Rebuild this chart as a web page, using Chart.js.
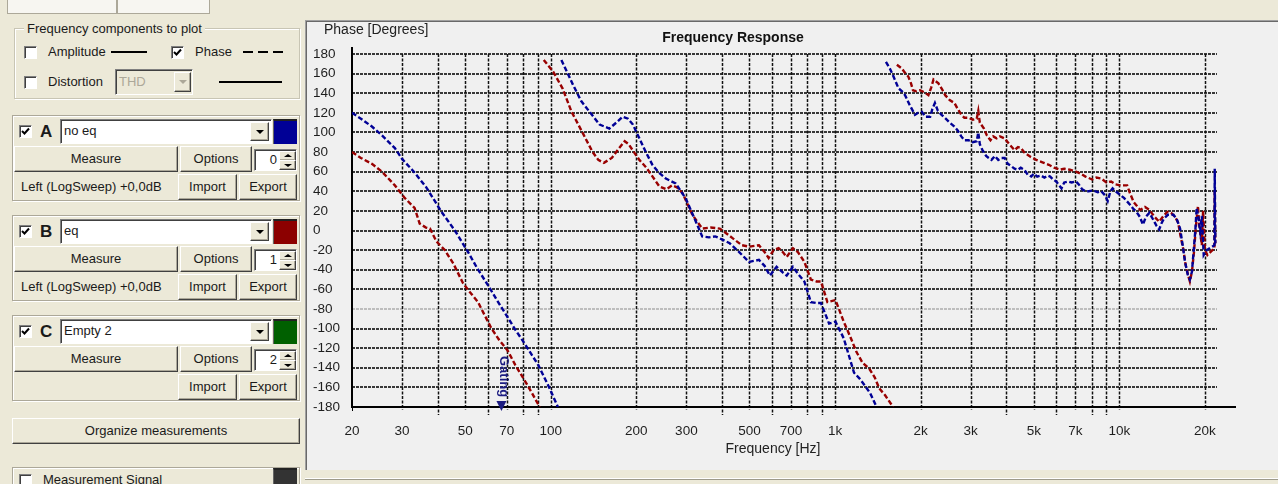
<!DOCTYPE html>
<html>
<head>
<meta charset="utf-8">
<title>Frequency Response</title>
<script src="https://cdn.jsdelivr.net/npm/chart.js@4.4.1/dist/chart.umd.min.js"></script>
<style>
  html, body { margin: 0; padding: 0; }
  body {
    width: 1278px; height: 484px; overflow: hidden; position: relative;
    background: #ece9d8; color: #1a1a1a;
    font-family: "Liberation Sans", Arial, sans-serif; font-size: 13px;
  }
  .abs { position: absolute; white-space: nowrap; }
  .tab { position: absolute; top: 0; height: 13px; background: #f7f6f1; border: 1px solid #aca899; border-top: none; }
  .group { position: absolute; box-sizing: border-box; border: 1px solid #c8c5b4; box-shadow: inset 1px 1px 0 #fff, 1px 1px 0 #fff; }
  .glabel { position: absolute; background: #ece9d8; padding: 0 3px; line-height: 16px; }
  .panel { position: absolute; box-sizing: border-box; border: 1px solid #aca899; box-shadow: inset 1px 1px 0 #fff, 1px 1px 0 #fff; }
  .cb { position: absolute; box-sizing: border-box; width: 13px; height: 13px; background: #fff;
        border: 1px solid; border-color: #808080 #fff #fff #808080; box-shadow: inset 1px 1px 0 #404040; }
  .cb svg { position: absolute; left: 1px; top: 1px; }
  .btn { position: absolute; box-sizing: border-box; background: #ece9d8; text-align: center;
         border: 1px solid; border-color: #fff #404040 #404040 #fff; box-shadow: inset -1px -1px 0 #aca899; }
  .field { position: absolute; box-sizing: border-box; background: #fff;
           border: 1px solid; border-color: #808080 #fff #fff #808080; box-shadow: inset 1px 1px 0 #404040; }
  .arrow { position: absolute; width: 0; height: 0; border-left: 4px solid transparent; border-right: 4px solid transparent; border-top: 4px solid #000; }
  .swatch { position: absolute; box-sizing: border-box; border-top: 2px solid #222; border-left: 1px solid #666; }
  #chartPanel { position: absolute; left: 305px; top: 20px; width: 973px; height: 450px; box-sizing: border-box;
                background: #f0f0f0; border-left: 1px solid #a0a0a0; border-top: 1px solid #a0a0a0;
                box-shadow: inset 1px 1px 0 #696969; }
  #plot { position: absolute; left: 308px; top: 22px; }
  #statusLine { position: absolute; left: 305px; top: 478px; width: 973px; height: 1px; background: #9d9a8a; border-top: 1px solid #fff; }
</style>
</head>
<body>
<div class="tab" style="left:7px;width:108px"></div>
<div class="tab" style="left:117px;width:91px"></div>

<div class="group" style="left:14px;top:28px;width:286px;height:71px"></div>
<div class="glabel" style="left:24px;top:21px">Frequency components to plot</div>
<div class="cb" style="left:24px;top:46px"></div>
<div class="abs" style="left:48px;top:44px;line-height:16px">Amplitude</div>
<div class="abs" style="left:111px;top:51px;width:36px;height:2px;background:#000"></div>
<div class="cb" style="left:171px;top:46px"><svg width="9" height="9"><path d="M1 4 L3.5 6.5 L8 1.5" stroke="#000" stroke-width="2" fill="none"/></svg></div>
<div class="abs" style="left:195px;top:44px;line-height:16px">Phase</div>
<div class="abs" style="left:243px;top:51px;width:41px;height:2px;background:repeating-linear-gradient(90deg,#000 0 10px,transparent 10px 15px)"></div>
<div class="cb" style="left:24px;top:76px"></div>
<div class="abs" style="left:48px;top:74px;line-height:16px">Distortion</div>
<div class="field" style="left:115px;top:69px;width:78px;height:26px;background:#ece9d8">
  <div class="abs" style="left:3px;top:4px;line-height:16px;color:#aca899">THD</div>
  <div class="btn" style="left:58px;top:2px;width:17px;height:20px"><div class="arrow" style="left:4px;top:7px;border-top-color:#aca899"></div></div>
</div>
<div class="abs" style="left:219px;top:81px;width:63px;height:2px;background:#000"></div>

<div id="measureGroups"></div>

<div class="btn" style="left:12px;top:418px;width:288px;height:26px;line-height:24px">Organize measurements</div>
<div class="panel" style="left:12px;top:467px;width:288px;height:30px"></div>
<div class="cb" style="left:19px;top:474px"></div>
<div class="abs" style="left:43px;top:472px;line-height:16px">Measurement Signal</div>
<div class="swatch" style="left:273px;top:468px;width:24px;height:20px;background:#333"></div>

<div id="chartPanel"></div>
<canvas id="plot" width="970" height="448"></canvas>
<div id="statusLine"></div>

<script>
// measurement slots shown in the left panel
const slotLetters = ['A', 'B', 'C'];
const slotNames = ['no eq', 'eq', 'Empty 2'];
const slotColors = ['#000096', '#8c0000', '#006000'];
const slotSources = ['Left (LogSweep) +0,0dB', 'Left (LogSweep) +0,0dB', ''];

// phase curves, [Hz, degrees]; null = wrap from -180 to +180
const noEqPhase = [
  [20,120],[21.5,114],[23.5,106],[25.5,97],[28.3,84],[30,73],[33,60],[36.5,44],[41.3,19],[46,0],
  [51.2,-22],[55,-38],[60.2,-56],[65,-72],[70.4,-88],[75,-101],[80,-113],[90.3,-137],[98,-158],[106,-180],
  [107,null],
  [109,174],[119.6,149],[128,132],[137,121],[148.6,108],[160.8,104],[170,110],[179,116],[187,114],[194.6,108],
  [205,94],[216,80],[227.8,67],[240,59],[254,53],[275,48],[298,33],[324,9],[341,-6],[360,-7],[379,-6],
  [400,-9],[426,-13],[460,-22],[498,-32],[540,-30],[565,-36],[590,-46],[623,-37],[650,-42],[676,-46],
  [711,-37],[740,-44],[780,-52],[822,-73],[860,-74],[892,-74],[953,-95],[1004,-93],[1073,-110],[1120,-128],
  [1166,-145],[1220,-151],[1272,-158],[1330,-166],[1400,-180],
  [1450,null],
  [1510,172],[1560,165],[1600,158],[1672,145],[1720,142],[1763,138],[1830,128],[1910,118],[1960,120],[2020,121],
  [2080,116],[2160,116],[2200,124],[2245,130],[2300,122],[2370,118],[2450,114],[2530,110],[2630,106],[2700,102],
  [2780,96],[2850,92],[2950,92],[3050,90],[3150,91],[3190,100],[3230,88],[3300,82],[3400,76],[3470,74],
  [3550,72],[3650,76],[3750,72],[3850,74],[3950,74],[4050,68],[4150,66],[4280,63],[4400,62],[4500,64],
  [4630,62],[4760,57],[4900,55],[5000,58],[5140,55],[5300,56],[5450,54],[5600,56],[5710,55],[5850,52],
  [6000,50],[6260,43],[6400,49],[6600,50],[6800,49],[7040,50],[7200,47],[7400,42],[7600,40],[7800,40],
  [8100,41],[8400,39],[8640,40],[8900,36],[9100,30],[9300,40],[9470,43],[9700,40],[10100,36],[10400,33],
  [10920,26],[11200,22],[11490,19],[11800,14],[12100,6],[12400,14],[12750,18],[13100,12],[13500,5],[13800,1],
  [14100,8],[14340,12],[14800,16],[15500,16],[15900,12],[16350,2],[16700,-15],[17020,-32],[17400,-45],[17700,-50],
  [18000,-42],[18200,-25],[18500,0],[18700,23],[19000,12],[19250,-1],[19500,15],[19800,-25],[20300,-20],[21600,-15],
  [21650,63],[21750,-13]
];
const eqPhase = [
  [20,80],[21.5,74],[23.5,68],[25.5,60],[28.3,46],[30.7,33],[33.2,23],[34.6,7],[36.4,3],[37.6,2],
  [39.6,-11],[42.4,-20],[45.5,-34],[49.2,-54],[52,-63],[55.5,-73],[58,-84],[61.9,-100],[66,-112],[70.4,-122],
  [75,-137],[81,-153],[86,-166],[91.4,-180],
  [92,null],
  [94.5,174],[102,162],[110,145],[118.4,121],[124,110],[129.8,99],[140.4,80],[147,72],[153.8,69],[164,74],
  [174,84],[182,91],[188,88],[194,82],[205,72],[217,64],[241,45],[255,42],[267,46],[278,44],
  [291,38],[315,16],[341,2],[365,3],[393,2],[415,-3],[437,-8],[470,-15],[498,-16.5],[540,-15],
  [565,-22],[584,-28],[608,-20],[633,-18],[655,-22],[676,-27],[711,-18],[740,-22],[780,-32],[822,-50],
  [860,-52],[892,-52],[940,-73],[1004,-71],[1073,-93],[1130,-108],[1190,-124],[1250,-135],[1320,-141],[1380,-150],
  [1430,-161],[1500,-168],[1600,-180],
  [1620,null],
  [1650,169],[1720,165],[1760,161],[1810,157],[1850,150],[1880,143],[1930,142],[1990,143],[2060,141],[2130,138],
  [2180,146],[2220,154],[2310,150],[2380,144],[2440,138],[2530,133],[2630,130],[2700,124],[2780,118],[2850,115],
  [2950,115],[3050,113],[3150,114],[3190,122],[3230,110],[3340,104],[3420,97],[3520,92],[3600,96],[3700,94],
  [3800,96],[3950,94],[4100,88],[4280,82],[4400,85],[4510,84],[4650,79],[4880,75],[5100,72],[5420,69],
  [5650,67],[5900,64],[6170,62],[6400,63],[6700,62],[7040,60],[7300,58],[7600,55],[8020,52],[8300,54],
  [8640,53],[9000,49],[9350,50],[9700,47],[10100,46],[10650,46],[10900,38],[11230,29],[11840,21],[12300,24],
  [12750,21],[13300,14],[13800,9],[14300,15],[14750,19],[15200,18],[15700,14],[16100,8],[16400,-5],[16800,-20],
  [17100,-35],[17500,-47],[17700,-52],[18000,-42],[18300,-22],[18600,5],[18900,25],[19100,5],[19500,-15],[19700,20],
  [20000,-20],[20400,-25],[21600,-18],[21650,40],[21750,-13]
];

// axes
const xGridHz = [20,30,40,50,60,70,80,90,100,200,300,400,500,600,700,800,900,
                 1000,2000,3000,4000,5000,6000,7000,8000,9000,10000,20000];
const xLabelHz = [20,30,50,70,100,200,300,500,700,1000,2000,3000,5000,7000,10000,20000];
const xLabelText = ['20','30','50','70','100','200','300','500','700','1k','2k','3k','5k','7k','10k','20k'];
const gatingHz = 66;

// left panel, one block per measurement slot
let html = '';
slotLetters.forEach((letter, i) => {
    const t = 115 + i * 100;
    html += `
    <div class="panel" style="left:12px;top:${t}px;width:288px;height:86px"></div>
    <div class="cb" style="left:19px;top:${t + 10}px"><svg width="9" height="9"><path d="M1 4 L3.5 6.5 L8 1.5" stroke="#000" stroke-width="2" fill="none"/></svg></div>
    <div class="abs" style="left:40px;top:${t + 7}px;font-weight:bold;font-size:17px;line-height:20px">${letter}</div>
    <div class="field" style="left:60px;top:${t + 4}px;width:212px;height:25px">
      <div class="abs" style="left:3px;top:3px;line-height:16px">${slotNames[i]}</div>
      <div class="btn" style="left:189px;top:2px;width:19px;height:19px"><div class="arrow" style="left:5px;top:7px"></div></div>
    </div>
    <div class="swatch" style="left:273px;top:${t + 4}px;width:24px;height:25px;background:${slotColors[i]}"></div>
    <div class="btn" style="left:14px;top:${t + 31}px;width:164px;height:26px;line-height:24px">Measure</div>
    <div class="btn" style="left:180px;top:${t + 31}px;width:72px;height:26px;line-height:24px">Options</div>
    <div class="field" style="left:254px;top:${t + 34}px;width:43px;height:22px">
      <div class="abs" style="left:12px;top:2px;width:10px;text-align:right;line-height:16px">${i}</div>
      <div class="btn" style="left:24px;top:1px;width:17px;height:10px"><div class="arrow" style="left:4px;top:2px;border-top:none;border-bottom:3px solid #000"></div></div>
      <div class="btn" style="left:24px;top:10px;width:17px;height:10px"><div class="arrow" style="left:4px;top:3px;border-top-width:3px"></div></div>
    </div>
    <div class="abs" style="left:21px;top:${t + 64}px;line-height:16px">${slotSources[i]}</div>
    <div class="btn" style="left:178px;top:${t + 59}px;width:59px;height:26px;line-height:24px">Import</div>
    <div class="btn" style="left:239px;top:${t + 59}px;width:58px;height:26px;line-height:24px">Export</div>`;
});
document.getElementById('measureGroups').innerHTML = html;

function toPoints(pairs) {
    return pairs.map(p => ({ x: p[0], y: p[1] }));
}

// grid, axis lines, gating marker and titles drawn the way the analyser does it
const analyserLook = {
    id: 'analyserLook',
    beforeDatasetsDraw(chart) {
        const { ctx, chartArea: a, scales: { x, y } } = chart;
        ctx.save();
        // horizontal dashed grid
        ctx.lineWidth = 2;
        ctx.setLineDash([3, 1]);
        y.ticks.forEach(t => {
            if (t.value === -180) return;
            const py = Math.round(y.getPixelForValue(t.value));
            ctx.strokeStyle = t.value === -80 ? '#bdbdbd' : '#383838';
            ctx.beginPath();
            ctx.moveTo(a.left, py);
            ctx.lineTo(a.right, py);
            ctx.stroke();
        });
        // vertical dashed grid
        ctx.lineWidth = 1.5;
        ctx.setLineDash([3, 1.5]);
        ctx.strokeStyle = '#111';
        x.ticks.forEach(t => {
            const px = Math.round(x.getPixelForValue(t.value)) + 0.5;
            const labelled = xLabelHz.includes(t.value);
            if (t.value !== 20) {
                ctx.beginPath();
                ctx.moveTo(px, a.top);
                ctx.lineTo(px, a.bottom + (labelled ? 3 : 8));
                ctx.stroke();
            }
        });
        // axis lines
        ctx.setLineDash([]);
        ctx.strokeStyle = '#000';
        ctx.lineWidth = 2;
        ctx.beginPath();
        ctx.moveTo(a.left, a.top - 7);
        ctx.lineTo(a.left, a.bottom);
        ctx.lineTo(a.right + 19, a.bottom);
        ctx.stroke();
        ctx.lineWidth = 1;
        ctx.beginPath();
        ctx.moveTo(a.left + 0.5, a.bottom);
        ctx.lineTo(a.left + 0.5, a.bottom + 4);
        ctx.stroke();
        ctx.restore();
    },
    afterDatasetsDraw(chart) {
        const { ctx, chartArea: a, scales: { x } } = chart;
        ctx.save();
        // gating marker
        const gx = x.getPixelForValue(gatingHz);
        ctx.fillStyle = '#1c1c82';
        ctx.beginPath();
        ctx.moveTo(gx - 3, a.bottom - 6);
        ctx.lineTo(gx + 7, a.bottom - 6);
        ctx.lineTo(gx + 2, a.bottom + 4);
        ctx.closePath();
        ctx.fill();
        ctx.translate(gx, a.bottom - 51);
        ctx.rotate(Math.PI / 2);
        ctx.font = 'bold 13px "Liberation Sans", Arial, sans-serif';
        ctx.textAlign = 'left';
        ctx.textBaseline = 'alphabetic';
        ctx.fillText('Gating', 0, -1);
        ctx.restore();

        ctx.save();
        ctx.fillStyle = '#111';
        ctx.textBaseline = 'middle';
        ctx.font = 'bold 14px "Liberation Sans", Arial, sans-serif';
        ctx.textAlign = 'center';
        ctx.fillText('Frequency Response', 425, 16);
        ctx.font = '14px "Liberation Sans", Arial, sans-serif';
        ctx.fillStyle = '#222';
        ctx.fillText('Frequency [Hz]', 465, 427);
        ctx.textAlign = 'left';
        ctx.fillText('Phase [Degrees]', 16, 8);
        ctx.restore();
    }
};

Chart.defaults.font.family = '"Liberation Sans", Arial, sans-serif';

new Chart(document.getElementById('plot'), {
    type: 'line',
    data: {
        datasets: [{
            label: slotNames[0],
            data: toPoints(noEqPhase),
            borderColor: slotColors[0],
            borderWidth: 2.4,
            borderDash: [5, 2.5],
            pointRadius: 0,
            tension: 0,
            fill: false
        }, {
            label: slotNames[1],
            data: toPoints(eqPhase),
            borderColor: '#990000',
            borderWidth: 2.4,
            borderDash: [5, 2.5],
            pointRadius: 0,
            tension: 0,
            fill: false
        }]
    },
    options: {
        responsive: false,
        animation: false,
        events: [],
        layout: { padding: { left: 5, top: 32, right: 61, bottom: 0 } },
        scales: {
            x: {
                type: 'logarithmic',
                min: 20,
                max: 22050,
                grid: { display: false },
                border: { display: false },
                afterBuildTicks: s => { s.ticks = xGridHz.map(v => ({ value: v })); },
                afterFit: s => { s.height = 63; },
                ticks: {
                    autoSkip: false,
                    maxRotation: 0,
                    minRotation: 0,
                    padding: 8,
                    color: '#1e1e1e',
                    font: { size: 13.5 },
                    callback: v => {
                        const i = xLabelHz.indexOf(v);
                        return i >= 0 ? xLabelText[i] : '';
                    }
                }
            },
            y: {
                min: -180,
                max: 180,
                grid: { display: false },
                border: { display: false },
                afterFit: s => { s.width = 39; },
                ticks: {
                    stepSize: 20,
                    autoSkip: false,
                    crossAlign: 'far',
                    padding: 0,
                    color: '#1e1e1e',
                    font: { size: 13.5 }
                }
            }
        },
        plugins: {
            legend: { display: false },
            tooltip: { enabled: false },
            title: { display: false }
        }
    },
    plugins: [analyserLook]
});
</script>
</body>
</html>
